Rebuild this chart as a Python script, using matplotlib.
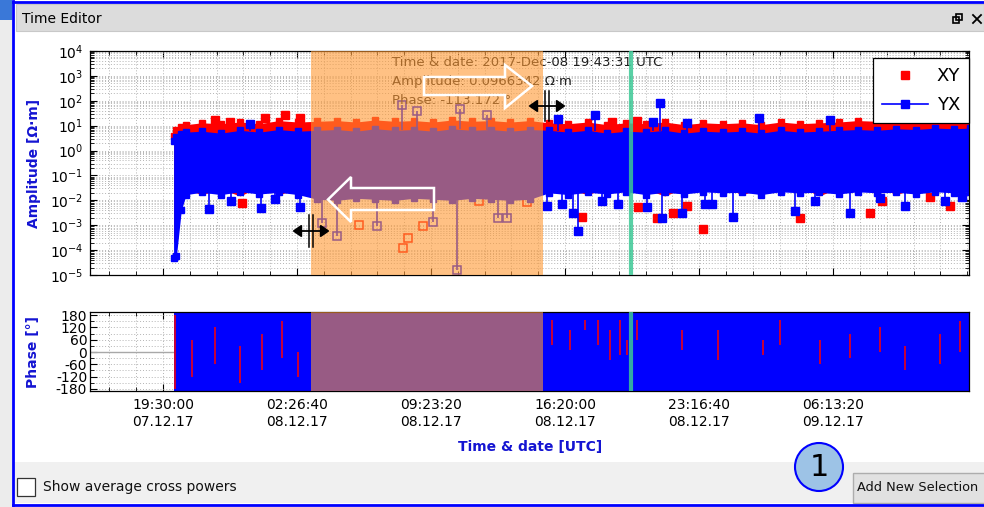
import numpy as np
import matplotlib
matplotlib.use("Agg")
import matplotlib.pyplot as plt
from matplotlib.patches import Rectangle, Polygon, Circle
from matplotlib.lines import Line2D
from matplotlib.ticker import FixedLocator, LogLocator, NullFormatter

plt.rcParams['font.family'] = ['DejaVu Sans']
plt.rcParams['axes.unicode_minus'] = False

# ---------------- data (time in hours since 2017-12-07 00:00 UTC) ----------------
band_hours = [20.05, 20.2, 20.45, 20.7,
              21.5, 22.5, 23.5, 24.5, 25.5,
              26.5, 27.5, 28.5, 29.5, 30.5,
              31.5, 32.5, 33.5, 34.5, 35.5,
              36.5, 37.5, 38.5, 39.5, 40.5,
              41.5, 42.5, 43.5, 44.5, 45.5,
              46.5, 47.5, 48.5, 49.5, 50.5,
              51.5, 52.5, 53.5, 54.5, 55.5,
              56.5, 57.5, 58.5, 59.5, 60.5,
              61.3]
yx_hi = [2.5, 3.5, 4.5, 5.5,
         6.0, 5.0, 6.5, 5.5, 7.0,
         6.0, 6.5, 7.0, 6.0, 7.5,
         6.5, 7.0, 6.0, 7.5, 6.5,
         7.0, 6.0, 7.0, 6.5, 5.5,
         6.5, 5.0, 6.0, 5.5, 6.5,
         5.0, 6.0, 5.5, 6.0, 5.0,
         6.5, 5.5, 6.0, 6.5, 7.0,
         6.5, 7.5, 7.0, 8.0, 7.5,
         8.0]
yx_lo = [5e-5, 6e-5, 0.004, 0.017,
         0.021, 0.017, 0.022, 0.018, 0.021,
         0.017, 0.011, 0.010, 0.012, 0.011,
         0.010, 0.012, 0.011, 0.010, 0.012,
         0.011, 0.010, 0.011, 0.020, 0.017,
         0.021, 0.018, 0.022, 0.017, 0.021,
         0.018, 0.022, 0.020, 0.021, 0.017,
         0.022, 0.020, 0.021, 0.018, 0.022,
         0.020, 0.021, 0.018, 0.022, 0.020,
         0.021]
xy_hi = [4.0, 7.0, 9.0, 11,
         13, 12, 14, 12, 16,
         14, 15, 16, 14, 17,
         15, 16, 14, 17, 15,
         16, 14, 16, 13, 12,
         14, 11, 13, 12, 14,
         11, 13, 12, 13, 11,
         14, 12, 13, 14, 16,
         15, 17, 16, 18, 17,
         18]
xy_lo = [2e-4, 3e-4, 0.008, 0.028,
         0.017, 0.028, 0.015, 0.035, 0.017,
         0.028, 0.02, 0.02, 0.02, 0.02,
         0.02, 0.02, 0.02, 0.02, 0.02,
         0.02, 0.02, 0.02, 0.025, 0.028,
         0.017, 0.031, 0.025, 0.028, 0.015,
         0.031, 0.025, 0.035, 0.017, 0.028,
         0.025, 0.035, 0.015, 0.031, 0.025,
         0.035, 0.017, 0.031, 0.025, 0.035,
         0.028]

yx_out_hours = [21.9, 23.0, 24.6, 25.3, 26.6, 24.0,
                27.74, 28.52, 30.59, 33.49, 34.73, 36.86, 37.32, 31.88, 32.66, 34.89, 36.29,
                39.4, 40.17, 40.74, 41.0, 42.25, 43.08, 44.58, 45.36, 46.39, 47.58, 47.95, 49.03,
                45.25, 41.88, 39.97, 44.89, 46.65,
                52.25, 53.28, 55.1, 56.65, 57.95, 60.0, 60.9, 50.4, 54.06]
yx_out_vals = [0.0045, 0.009, 0.005, 0.011, 0.0055, 12,
               0.00126, 3.8e-4, 9.5e-4, 0.0014, 1.6e-5, 0.0019, 0.0019, 66, 38, 46, 26,
               0.0062, 0.0074, 0.0032, 6e-4, 0.0098, 0.0074, 0.0053, 0.0019, 0.0030, 0.0074, 0.0074, 0.0021,
               80, 26, 18, 14, 12.6,
               0.0039, 0.0098, 0.0032, 0.012, 0.0062, 0.0098, 0.014, 20, 16.6]
xy_out_hours = [22.2, 22.97, 24.78, 25.82, 26.6, 23.6,
                29.66, 31.94, 32.2, 32.97, 35.87, 38.36,
                41.21, 44.11, 45.1, 45.92, 46.65, 47.48, 42.76, 44.06,
                52.5, 56.13, 56.75, 59.24, 60.28, 59.76, 60.8]
xy_out_vals = [16.6, 14, 20, 26, 20, 0.008,
               0.00105, 1.26e-4, 3.2e-4, 9.5e-4, 0.0098, 0.0089,
               0.0021, 0.0053, 0.0019, 0.0030, 0.0062, 7.2e-4, 13.8, 15,
               0.0019, 0.0032, 0.0098, 0.014, 0.0062, 20, 16.6]

phase_start_h = 20.07
phase_end_h = 61.3
xy_phase_hours = [20.1, 21.0, 22.19, 23.49, 24.63, 25.67, 26.5,
                  39.66, 40.59, 41.37, 42.04, 42.66, 43.18, 43.54, 44.06, 46.39, 48.26,
                  50.59, 51.47, 53.54, 55.1, 56.65, 57.95, 59.76, 60.8]
xy_phase_lo = [-180, -120, -60, -150, -90, -30, -120,
               34, 10, 107, 34, -39, -15, -15, 58, 10, -39,
               -15, 34, -60, -30, 0, -90, -60, 0]
xy_phase_hi = [180, 60, 120, 30, 90, 150, 0,
               156, 107, 156, 156, 107, 156, 58, 156, 107, 107,
               58, 156, 60, 90, 120, 30, 90, 150]

selection_h = (27.17, 39.19)
cursor_h = 43.75
x_range_h = (15.72, 61.26)

tick_hours = [19.5, 26.4444, 33.3889, 40.3333, 47.2778, 54.2222]
tick_labels = ["19:30:00\n07.12.17", "02:26:40\n08.12.17", "09:23:20\n08.12.17",
               "16:20:00\n08.12.17", "23:16:40\n08.12.17", "06:13:20\n09.12.17"]
amp_range = (1e-5, 1e4)
phase_ticks = [-180, -120, -60, 0, 60, 120, 180]
phase_range = (-190, 195)
tooltip_lines = ["Time & date: 2017-Dec-08 19:43:31 UTC",
                 "Amplitude: 0.0966342 \u03a9\u00b7m",
                 "Phase: -113.172 \u00b0"]

RED = '#ff0000'
BLUE = '#0000ff'
LBLUE = '#1414d2'
ORANGE = '#ff9933'

# ---------------- figure & window chrome ----------------
W, H = 984, 507
fig = plt.figure(figsize=(W / 100, H / 100), dpi=100)
bg = fig.add_axes([0, 0, 1, 1], zorder=-10)
bg.set_xlim(0, W)
bg.set_ylim(H, 0)
bg.axis('off')

bg.add_patch(Rectangle((0, 0), W, H, fc='white', ec='none'))
bg.add_patch(Rectangle((0, 0), 12, 20, fc='#3a78d8', ec='none'))
bg.add_patch(Rectangle((0, 20), 12, H - 20, fc='#ececec', ec='none'))
bg.add_patch(Rectangle((16, 4), W - 16, 27, fc='#dcdcdc', ec='#c8c8c8', lw=0.8))
bg.text(22, 19, "Time Editor", fontsize=10, va='center', ha='left', color='black')
# restore / close icons
bg.add_patch(Rectangle((953, 17), 6, 6, fill=False, ec='black', lw=1.2))
bg.add_patch(Rectangle((956, 14), 6, 6, fill=False, ec='black', lw=1.2))
bg.plot([973, 981], [15, 23], color='black', lw=1.3)
bg.plot([973, 981], [23, 15], color='black', lw=1.3)
# bottom bar
bg.add_patch(Rectangle((14, 462), W - 14, 41, fc='#f0f0f0', ec='none'))
bg.add_patch(Rectangle((17, 478), 18, 18, fc='white', ec='#333333', lw=0.9))
bg.text(43, 487.5, "Show average cross powers", fontsize=10, va='center', ha='left', color='#111111')
bg.add_patch(Rectangle((853, 473), 140, 30, fc='#e1e1e1', ec='#adadad', lw=1))
bg.text(857, 487.5, "Add New Selection", fontsize=9.3, va='center', ha='left', color='#111111')
bg.add_patch(Circle((819, 467), 24, fc='#9dc3e6', ec=BLUE, lw=1.5))
bg.text(819, 468, "1", fontsize=22, va='center', ha='center', color='black')
# window border
bg.plot([13, 13], [1, 505], color=BLUE, lw=2)
bg.plot([13, W], [1.5, 1.5], color=BLUE, lw=2)
bg.plot([13, W], [504.5, 504.5], color=BLUE, lw=2)

# axis labels
bg.text(34, 163, "Amplitude [\u03a9\u00b7m]", rotation=90, ha='center', va='center',
        color=LBLUE, fontweight='bold', fontsize=10)
bg.text(33, 352, "Phase [\u00b0]", rotation=90, ha='center', va='center',
        color=LBLUE, fontweight='bold', fontsize=10)
bg.text(530, 447, "Time & date [UTC]", ha='center', va='center',
        color=LBLUE, fontweight='bold', fontsize=10)

# ---------------- axes ----------------
ax = fig.add_axes([90 / W, 1 - 275 / H, 879 / W, 224 / H])
axp = fig.add_axes([90 / W, 1 - 391 / H, 879 / W, 79 / H])

step = tick_hours[1] - tick_hours[0]
minor_x = tick_hours[0] + step / 5 * np.arange(-20, 45)

for a in (ax, axp):
    a.set_xlim(*x_range_h)
    a.xaxis.set_major_locator(FixedLocator(tick_hours))
    a.xaxis.set_minor_locator(FixedLocator(minor_x))
    a.tick_params(which='both', direction='in', top=True, right=True, color='black',
                  labelsize=10)
    a.tick_params(which='major', length=5, width=0.8)
    a.tick_params(which='minor', length=3, width=0.6)
    a.grid(True, which='both', color='#b4b4b4', linestyle=(0, (1, 2)), lw=0.7)
    a.set_axisbelow(True)
    for s in a.spines.values():
        s.set_color('black')
        s.set_linewidth(0.9)

# amplitude panel
ax.set_yscale('log')
ax.set_ylim(*amp_range)
ax.yaxis.set_major_locator(LogLocator(base=10, numticks=20))
ax.yaxis.set_minor_locator(LogLocator(base=10, subs=np.arange(2, 10), numticks=20))
ax.yaxis.set_minor_formatter(NullFormatter())
ax.tick_params(axis='x', labelbottom=False)
ax.tick_params(axis='y', pad=5)

bh = np.array(band_hours)
ax.fill_between(bh, xy_lo, xy_hi, color=RED, lw=0, zorder=2)
ax.plot(bh, xy_hi, 's', color=RED, ms=5, zorder=2)
ax.fill_between(bh, yx_lo, yx_hi, color=BLUE, lw=0, zorder=2.2)
ax.plot(bh, yx_hi, 's', color=BLUE, ms=5, zorder=2.2)
ax.plot(bh, yx_lo, 's', color=BLUE, ms=5, zorder=2.2)

yh = np.array(yx_out_hours)
yv = np.array(yx_out_vals)
lo_edge = 10 ** np.interp(yh, bh, np.log10(yx_lo))
hi_edge = 10 ** np.interp(yh, bh, np.log10(yx_hi))
edge = np.where(yv > hi_edge, hi_edge, lo_edge)
sel_y = (yh >= selection_h[0]) & (yh <= selection_h[1])
ax.vlines(yh, edge, yv, color=BLUE, lw=1.2, zorder=2.3)
ax.plot(yh[~sel_y], yv[~sel_y], 's', color=BLUE, ms=5.5, zorder=2.4)
ax.plot(yh[sel_y], yv[sel_y], 's', mfc='none', mec=BLUE, mew=1.1, ms=5.5, zorder=2.4)

xh = np.array(xy_out_hours)
xv = np.array(xy_out_vals)
sel_x = (xh >= selection_h[0]) & (xh <= selection_h[1])
ax.plot(xh[~sel_x], xv[~sel_x], 's', color=RED, ms=5.5, zorder=2.1)
ax.plot(xh[sel_x], xv[sel_x], 's', mfc='none', mec=RED, mew=1.1, ms=5.5, zorder=2.1)

# tooltip (drawn under the selection overlay)
for i, line in enumerate(tooltip_lines):
    ax.text(392, 63 + 19 * i, line, transform=bg.transData, fontsize=9.5,
            color='#202020', va='center', ha='left', zorder=3, clip_on=False)

# phase panel
axp.set_ylim(*phase_range)
axp.yaxis.set_major_locator(FixedLocator(phase_ticks))
axp.yaxis.set_minor_locator(FixedLocator(np.arange(-180, 181, 30)))
axp.set_xticks(tick_hours, tick_labels)
axp.tick_params(axis='x', pad=5)
axp.tick_params(axis='y', pad=2)
for lab in axp.get_xticklabels():
    lab.set_linespacing(1.25)
axp.axhline(0, color='#a8a8a8', lw=1, zorder=1)
axp.axvspan(phase_start_h, phase_end_h, color=BLUE, lw=0, zorder=2)
axp.vlines(xy_phase_hours, xy_phase_lo, xy_phase_hi, color=RED, lw=1.1, zorder=2.1)

# selection overlay and time cursor
for a in (ax, axp):
    a.axvspan(*selection_h, color=ORANGE, alpha=0.6, lw=0, zorder=5)
    a.axvline(cursor_h, color='#3cc896', lw=3, alpha=0.85, zorder=4)

# white move arrows
right_arrow = [(424, 77), (505, 77), (505, 65), (532, 86), (505, 108), (505, 95), (424, 95)]
left_arrow = [(434, 188), (351, 188), (351, 177), (328, 199.5), (351, 222), (351, 210), (434, 210)]
for pts in (right_arrow, left_arrow):
    ax.add_patch(Polygon(pts, closed=True, fill=False, ec='white', lw=1.8,
                         transform=bg.transData, zorder=6, clip_on=False))

# resize cursors
def resize_cursor(xc, yc, half, bar_half):
    ax.add_line(Line2D([xc - half + 6, xc + half - 6], [yc, yc], color='black', lw=1.3,
                       transform=bg.transData, zorder=7))
    ax.add_patch(Polygon([(xc - half, yc), (xc - half + 8, yc - 5.5), (xc - half + 8, yc + 5.5)],
                         fc='black', ec='black', transform=bg.transData, zorder=7))
    ax.add_patch(Polygon([(xc + half, yc), (xc + half - 8, yc - 5.5), (xc + half - 8, yc + 5.5)],
                         fc='black', ec='black', transform=bg.transData, zorder=7))
    for dx in (-1.8, 1.8):
        ax.add_line(Line2D([xc + dx, xc + dx], [yc - bar_half, yc + bar_half], color='black',
                           lw=1.1, transform=bg.transData, zorder=7))

resize_cursor(547, 106, 17.5, 15)
resize_cursor(311, 231, 17.5, 16)

# legend
handles = [Line2D([0], [0], ls='none', marker='s', mfc=RED, mec=RED, ms=6),
           Line2D([0], [0], color=BLUE, lw=1.2, marker='s', ms=6)]
leg = ax.legend(handles, ['XY', 'YX'], loc='upper right', bbox_to_anchor=(1.0, 1 - 7 / 224),
                borderaxespad=0, fontsize=13, frameon=True, fancybox=False, framealpha=1,
                edgecolor='black', handlelength=2.5, handletextpad=0.5, labelspacing=0.6,
                borderpad=0.5)
leg.get_frame().set_linewidth(0.9)
leg.set_zorder(10)

fig.savefig("out.png", dpi=100)
